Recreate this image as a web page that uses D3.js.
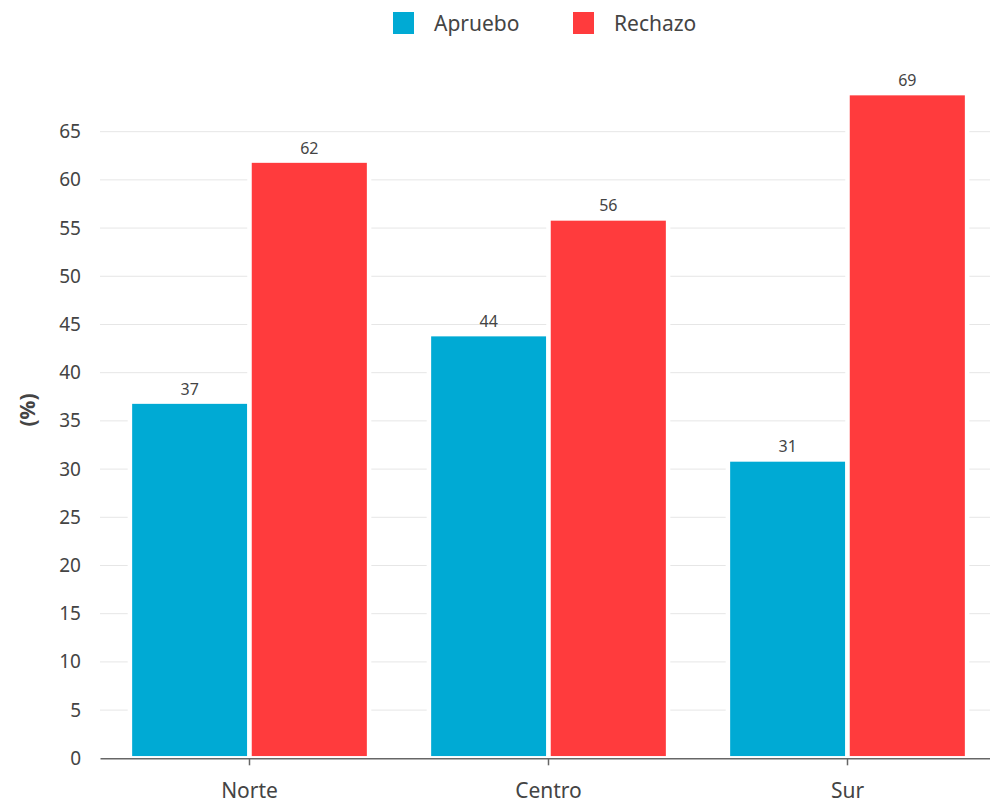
<!DOCTYPE html>
<html lang="es">
<head>
<meta charset="UTF-8">
<title>Apruebo / Rechazo por zona</title>
<style>
    body { margin: 0; background: #fff; }
    svg { display: block; font-family: "Noto Sans", "Open Sans", sans-serif; }
    .grid line { stroke: #e6e6e6; stroke-width: 1; }
    .axis text { fill: #444; font-family: "Noto Sans", "Open Sans", sans-serif; }
</style>
</head>
<body>
<svg width="990" height="803"></svg>
<script src="https://d3js.org/d3.v7.min.js"></script>
<script>
    const zonas = ["Norte", "Centro", "Sur"];
    const series = ["Apruebo", "Rechazo"];
    const apruebo = [37, 44, 31];
    const rechazo = [62, 56, 69];
    const yTicks = [0, 5, 10, 15, 20, 25, 30, 35, 40, 45, 50, 55, 60, 65];
    const colores = ["#00aad4", "#ff3b3d"];

    const data = zonas.map((z, i) => ({ zona: z, valores: [apruebo[i], rechazo[i]] }));

    const svg = d3.select("svg");
    const left = 100, right = 997, bottom = 758.3;

    const x0 = d3.scaleBand().domain(zonas).range([left, right])
        .paddingInner(0.2).paddingOuter(0.1);
    const x1 = d3.scaleBand().domain(series).range([0, x0.bandwidth()]);
    const y = d3.scaleLinear().domain([0, 69]).range([bottom, 93.1]);

    // grid
    svg.append("g")
        .attr("class", "grid")
        .selectAll("line")
        .data(yTicks.filter(d => d > 0))
        .enter().append("line")
        .attr("x1", left).attr("x2", 990)
        .attr("y1", d => y(d)).attr("y2", d => y(d));

    // bars
    const grupos = svg.append("g").selectAll("g")
        .data(data)
        .enter().append("g")
        .attr("transform", d => `translate(${x0(d.zona)},0)`);

    grupos.selectAll("rect")
        .data(d => d.valores.map((v, j) => ({ serie: series[j], v: v, j: j })))
        .enter().append("rect")
        .attr("x", d => x1(d.serie))
        .attr("y", d => y(d.v))
        .attr("width", x1.bandwidth())
        .attr("height", d => bottom - y(d.v))
        .attr("fill", d => colores[d.j])
        .attr("stroke", "#fff")
        .attr("stroke-width", 4.5);

    grupos.selectAll("text")
        .data(d => d.valores.map((v, j) => ({ serie: series[j], v: v })))
        .enter().append("text")
        .attr("x", d => x1(d.serie) + x1.bandwidth() / 2)
        .attr("y", d => y(d.v) - 7)
        .attr("text-anchor", "middle")
        .style("font-size", "16px")
        .style("fill", "#444")
        .text(d => d.v);

    // y axis
    const yAxis = svg.append("g")
        .attr("class", "axis")
        .attr("transform", `translate(${left},0)`)
        .call(d3.axisLeft(y).tickValues(yTicks).tickSize(0).tickPadding(19));
    yAxis.select(".domain").remove();
    yAxis.selectAll("text").style("font-size", "19px");

    // x axis
    const xAxis = svg.append("g")
        .attr("class", "axis")
        .attr("transform", `translate(0,${bottom})`)
        .call(d3.axisBottom(x0).tickSizeInner(7).tickSizeOuter(0).tickPadding(18));
    xAxis.select(".domain").attr("stroke", "#666").attr("stroke-width", 1.5);
    xAxis.selectAll(".tick line").attr("stroke", "#666").attr("stroke-width", 1.5);
    xAxis.selectAll("text").style("font-size", "21px");

    // y title
    svg.append("text")
        .attr("transform", "translate(35,410) rotate(-90)")
        .attr("text-anchor", "middle")
        .style("font-size", "21px")
        .style("font-weight", "bold")
        .style("fill", "#444")
        .text("(%)");

    // legend
    const legX = [393, 573];
    const leyenda = svg.append("g").selectAll("g")
        .data(series)
        .enter().append("g")
        .attr("transform", (d, i) => `translate(${legX[i]},12)`);
    leyenda.append("rect")
        .attr("width", 21).attr("height", 22)
        .attr("fill", (d, i) => colores[i]);
    leyenda.append("text")
        .attr("x", 41).attr("y", 19)
        .style("font-size", "21px")
        .style("fill", "#444")
        .text(d => d);
</script>
</body>
</html>
